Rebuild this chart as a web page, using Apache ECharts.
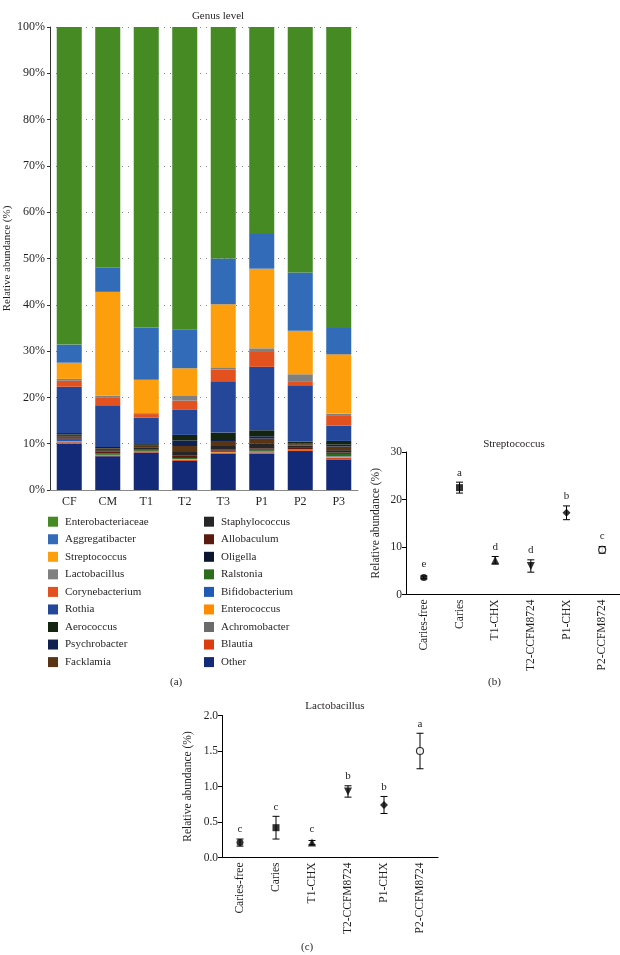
<!DOCTYPE html>
<html>
<head>
<meta charset="utf-8">
<script src="https://cdn.jsdelivr.net/npm/echarts@6/dist/echarts.min.js"></script>
<style>html,body{margin:0;padding:0;background:#fff}#c{width:620px;height:955px}</style>
</head>
<body>
<div id="c"></div>
<script>
// ---------- Panel (a): genus-level relative abundance (%) ----------
const groups = ['CF','CM','T1','T2','T3','P1','P2','P3'];
const other           = [10.0, 7.3, 8.1, 6.3, 7.9, 7.9, 8.4, 6.6];
const blautia         = [0.3, 0.2, 0.1, 0.2, 0.2, 0.2, 0.2, 0.3];
const achromobacter   = [0.1, 0.0, 0.0, 0.1, 0.0, 0.1, 0.0, 0.1];
const enterococcus    = [0.1, 0.1, 0.1, 0.1, 0.1, 0.1, 0.1, 0.2];
const bifidobacterium = [0.3, 0.0, 0.0, 0.0, 0.0, 0.0, 0.0, 0.1];
const ralstonia       = [0.2, 0.2, 0.3, 0.2, 0.2, 0.3, 0.1, 0.5];
const oligella        = [0.1, 0.1, 0.0, 0.2, 0.1, 0.1, 0.0, 0.0];
const allobaculum     = [0.3, 0.4, 0.2, 0.3, 0.3, 0.3, 0.3, 0.3];
const staphylococcus  = [0.2, 0.3, 0.3, 1.0, 0.7, 1.1, 0.5, 0.5];
const facklamia       = [0.3, 0.4, 0.6, 1.1, 0.9, 1.0, 0.3, 0.8];
const psychrobacter   = [0.1, 0.0, 0.0, 1.2, 0.4, 0.5, 0.1, 0.4];
const aerococcus      = [0.3, 0.3, 0.2, 1.2, 1.6, 1.3, 0.4, 0.8];
const rothia          = [10.0, 9.0, 5.7, 5.4, 11.1, 13.7, 12.2, 3.3];
const corynebacterium = [1.3, 1.6, 0.8, 2.0, 2.5, 3.2, 0.9, 2.1];
const lactobacillus   = [0.4, 0.5, 0.2, 1.0, 0.5, 0.8, 1.5, 0.5];
const streptococcus   = [3.5, 22.4, 7.2, 6.0, 13.6, 17.2, 9.4, 12.8];
const aggregatibacter = [3.9, 5.2, 11.3, 8.4, 9.9, 7.7, 12.6, 5.7];
const enterobacteriaceae = [68.6, 52.0, 64.9, 65.3, 50.0, 44.5, 53.0, 65.0];
const pctTicks = ['0%','10%','20%','30%','40%','50%','60%','70%','80%','90%','100%'];

// ---------- Panel (b) & (c) ----------
const treatments = ['Caries-free','Caries','T1-CHX','T2-CCFM8724','P1-CHX','P2-CCFM8724'];
const streptoMean = [3.6, 22.5, 7.2, 6.0, 17.2, 9.4];
const streptoErr  = [0.3, 1.15, 0.8, 1.3, 1.45, 0.7];
const streptoSig  = ['e','a','d','d','b','c'];
const lactoMean = [0.21, 0.42, 0.21, 0.93, 0.74, 1.50];
const lactoErr  = [0.05, 0.16, 0.03, 0.08, 0.12, 0.25];
const lactoSig  = ['c','c','c','b','b','a'];

// ---------- styles ----------
const FONT = '"Liberation Serif", "DejaVu Serif", serif';
const TXT = '#231f20';
const stackOrder = [
  ['Other', other, '#132a78'],
  ['Blautia', blautia, '#dc3d10'],
  ['Achromobacter', achromobacter, '#6b6b6b'],
  ['Enterococcus', enterococcus, '#ff8c00'],
  ['Bifidobacterium', bifidobacterium, '#1f5bb5'],
  ['Ralstonia', ralstonia, '#2b6d1c'],
  ['Oligella', oligella, '#0b1530'],
  ['Allobaculum', allobaculum, '#5a1a10'],
  ['Staphylococcus', staphylococcus, '#262626'],
  ['Facklamia', facklamia, '#5a3513'],
  ['Psychrobacter', psychrobacter, '#0f2150'],
  ['Aerococcus', aerococcus, '#14250f'],
  ['Rothia', rothia, '#24479a'],
  ['Corynebacterium', corynebacterium, '#e2511e'],
  ['Lactobacillus', lactobacillus, '#808080'],
  ['Streptococcus', streptococcus, '#fd9e0c'],
  ['Aggregatibacter', aggregatibacter, '#326cb8'],
  ['Enterobacteriaceae', enterobacteriaceae, '#468a24']
];
const legendLeft = ['Enterobacteriaceae','Aggregatibacter','Streptococcus','Lactobacillus','Corynebacterium','Rothia','Aerococcus','Psychrobacter','Facklamia'];
const legendRight = ['Staphylococcus','Allobaculum','Oligella','Ralstonia','Bifidobacterium','Enterococcus','Achromobacter','Blautia','Other'];
const markerShapes = ['circle','rect','triangle','path://M0,0L10,0L5,9Z','diamond','circle'];
const markerSizes = [7,7,8,8,8,7];

const chart = echarts.init(document.getElementById('c'), null, {renderer:'canvas'});

const barSeries = stackOrder.map(([name, vals, color]) => ({
  name, type:'bar', stack:'total', xAxisIndex:0, yAxisIndex:0,
  data: vals, barWidth:'65%', itemStyle:{color}, emphasis:{disabled:true}, animation:false
}));

function scatterSeries(means, axisIdx) {
  return {
    type:'scatter', xAxisIndex:axisIdx, yAxisIndex:axisIdx, animation:false, z:5,
    data: means.map((v,i)=>({
      value:[i,v], symbol:markerShapes[i], symbolSize:markerSizes[i],
      itemStyle: i===5 ? {color:'#fff', borderColor:'#000', borderWidth:1.2} : {color:'#000'}
    }))
  };
}
function errSeries(means, errs, sig, axisIdx) {
  return {
    type:'custom', xAxisIndex:axisIdx, yAxisIndex:axisIdx, animation:false, z:4,
    data: means.map((m,i)=>[i,m,errs[i]]),
    renderItem(params, api) {
      const i = api.value(0), m = api.value(1), e = api.value(2);
      const c = api.coord([i,m]), hi = api.coord([i,m+e]), lo = api.coord([i,m-e]);
      const w = 3.5;
      const top = Math.min(hi[1], c[1]-4);
      const st = {stroke:'#000', lineWidth:1};
      return {type:'group', children:[
        {type:'line', shape:{x1:c[0],y1:hi[1],x2:c[0],y2:lo[1]}, style:st},
        {type:'line', shape:{x1:c[0]-w,y1:hi[1],x2:c[0]+w,y2:hi[1]}, style:st},
        {type:'line', shape:{x1:c[0]-w,y1:lo[1],x2:c[0]+w,y2:lo[1]}, style:st},
        {type:'text', style:{text:sig[params.dataIndex], x:c[0], y:top-4, textAlign:'center', textVerticalAlign:'bottom', font:'11px '+FONT, fill:TXT}}
      ]};
    }
  };
}

const axisLbl = {fontFamily:FONT, color:TXT, fontSize:12};
const option = {
  backgroundColor:'#fff',
  animation:false,
  title:[
    {text:'Genus level', left:213, top:6, textAlign:'center', textStyle:{fontFamily:FONT, fontSize:11, fontWeight:'normal', color:TXT}},
    {text:'Streptococcus', left:509, top:434, textAlign:'center', textStyle:{fontFamily:FONT, fontSize:11, fontWeight:'normal', color:TXT}},
    {text:'Lactobacillus', left:330, top:696, textAlign:'center', textStyle:{fontFamily:FONT, fontSize:11, fontWeight:'normal', color:TXT}}
  ],
  legend:[
    {data:legendLeft, orient:'vertical', left:48, top:516.2, padding:0, itemGap:6.55, itemWidth:10, itemHeight:10, icon:'rect', selectedMode:false,
     textStyle:{fontFamily:FONT, fontSize:11, color:TXT, padding:[0,0,0,2]}},
    {data:legendRight, orient:'vertical', left:204, top:516.2, padding:0, itemGap:6.55, itemWidth:10, itemHeight:10, icon:'rect', selectedMode:false,
     textStyle:{fontFamily:FONT, fontSize:11, color:TXT, padding:[0,0,0,2]}}
  ],
  grid:[
    {left:50, top:27, width:308, height:463},
    {left:406, top:452, width:214, height:142.5},
    {left:222, top:715.5, width:216, height:142}
  ],
  xAxis:[
    {type:'category', gridIndex:0, data:groups, axisLine:{lineStyle:{color:'#888', width:1}}, axisTick:{show:false},
     axisLabel:{...axisLbl, margin:6}},
    {type:'category', gridIndex:1, data:treatments, axisLine:{lineStyle:{color:'#000'}}, axisTick:{show:false},
     axisLabel:{...axisLbl, fontSize:11.5, rotate:90, margin:5, interval:0}},
    {type:'category', gridIndex:2, data:treatments, axisLine:{lineStyle:{color:'#000'}}, axisTick:{show:false},
     axisLabel:{...axisLbl, fontSize:11.5, rotate:90, margin:5, interval:0}}
  ],
  yAxis:[
    {type:'value', gridIndex:0, min:0, max:100, interval:10,
     name:'Relative abundance (%)', nameLocation:'middle', nameGap:36, nameTextStyle:{fontFamily:FONT, fontSize:11, color:TXT},
     axisLine:{show:true, lineStyle:{color:'#333'}}, axisTick:{show:true, length:3, lineStyle:{color:'#333'}},
     axisLabel:{...axisLbl, margin:5, formatter:(v)=>pctTicks[Math.round(v/10)]},
     splitLine:{show:true, lineStyle:{color:'#888', type:[1,5], width:1}}},
    {type:'value', gridIndex:1, min:0, max:30, interval:10,
     name:'Relative abundance (%)', nameLocation:'middle', nameGap:24, nameTextStyle:{fontFamily:FONT, fontSize:11.5, color:TXT},
     axisLine:{show:true, lineStyle:{color:'#000'}}, axisTick:{show:true, length:4, lineStyle:{color:'#000'}},
     axisLabel:{...axisLbl, fontSize:11.5, margin:4}, splitLine:{show:false}},
    {type:'value', gridIndex:2, min:0, max:2, interval:0.5,
     name:'Relative abundance (%)', nameLocation:'middle', nameGap:28, nameTextStyle:{fontFamily:FONT, fontSize:11.5, color:TXT},
     axisLine:{show:true, lineStyle:{color:'#000'}}, axisTick:{show:true, length:4, lineStyle:{color:'#000'}},
     axisLabel:{...axisLbl, fontSize:11.5, margin:4, formatter:(v)=>v.toFixed(1)}, splitLine:{show:false}}
  ],
  graphic:[
    {type:'text', left:170, top:677, style:{text:'(a)', font:'11px '+FONT, fill:TXT}},
    {type:'text', left:488, top:677, style:{text:'(b)', font:'11px '+FONT, fill:TXT}},
    {type:'text', left:301, top:942, style:{text:'(c)', font:'11px '+FONT, fill:TXT}}
  ],
  series:[
    ...barSeries,
    errSeries(streptoMean, streptoErr, streptoSig, 1),
    scatterSeries(streptoMean, 1),
    errSeries(lactoMean, lactoErr, lactoSig, 2),
    scatterSeries(lactoMean, 2)
  ]
};
chart.setOption(option);
</script>
</body>
</html>
